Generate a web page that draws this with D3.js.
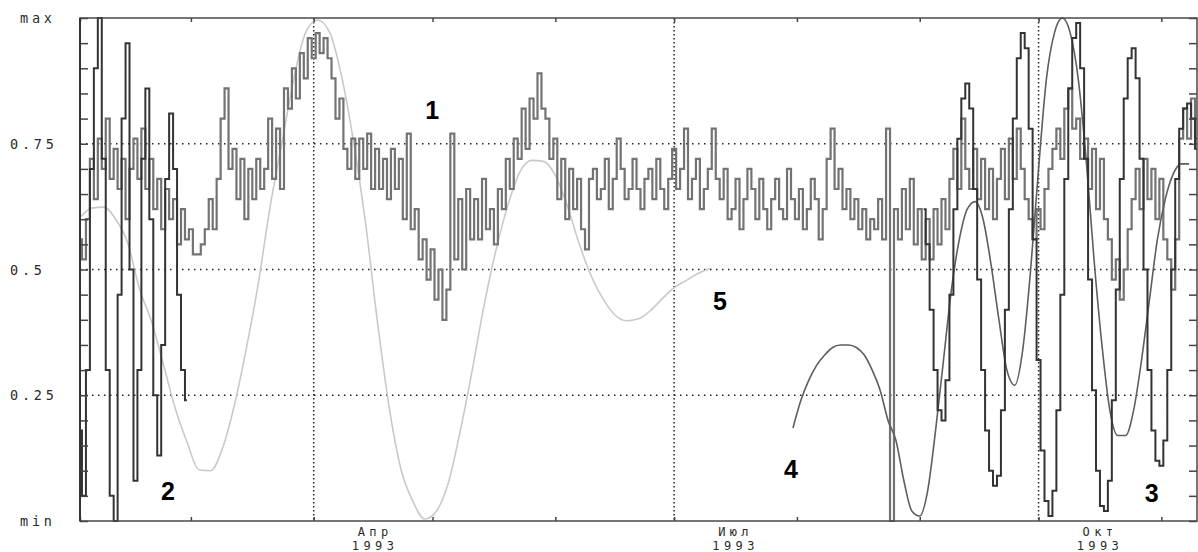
<!DOCTYPE html>
<html>
<head>
<meta charset="utf-8">
<script src="https://cdn.jsdelivr.net/npm/d3@7"></script>
<style>
  body { margin: 0; background: #fff; }
  .lbl { font-family: 'DejaVu Sans Mono', monospace; font-size: 13.5px; fill: #2a2a2a; letter-spacing: 3.8px; }
  .xlbl { font-family: 'DejaVu Sans Mono', monospace; font-size: 12px; fill: #2a2a2a; letter-spacing: 4.4px; }
  .num { font-family: 'Liberation Sans', Arial, sans-serif; font-size: 25px; font-weight: bold; fill: #000; }
</style>
</head>
<body>
<div id="chart"></div>
<script>
// Time span and axis labels
const startDate = new Date(1993, 1, 1)
const endDate = new Date(1993, 10, 10)
const yTickValues = [0, 0.25, 0.5, 0.75, 1]
const yTickLabels = ['min', '0.25', '0.5', '0.75', 'max']
const quarterStarts = [new Date(1993, 3, 1), new Date(1993, 6, 1), new Date(1993, 9, 1)]
const quarterNames = ['Апр', 'Июл', 'Окт']
const quarterYears = ['1993', '1993', '1993']

// Series 1 - daily values from Feb 1
const s1Start = 0
const s1Values = [
  0.56, 0.52, 0.60, 0.72, 0.64, 0.76, 0.70, 0.80, 0.68, 0.74,
  0.66, 0.72, 0.60, 0.70, 0.76, 0.68, 0.78, 0.66, 0.72, 0.62,
  0.68, 0.58, 0.66, 0.60, 0.64, 0.55, 0.62, 0.56, 0.58, 0.53,
  0.53, 0.55, 0.58, 0.64, 0.58, 0.68, 0.80, 0.86, 0.70, 0.74,
  0.64, 0.72, 0.60, 0.70, 0.64, 0.72, 0.66, 0.70, 0.80, 0.68,
  0.78, 0.66, 0.86, 0.82, 0.90, 0.84, 0.93, 0.88, 0.96, 0.92,
  0.97, 0.93, 0.96, 0.92, 0.88, 0.80, 0.84, 0.74, 0.70, 0.76,
  0.68, 0.76, 0.70, 0.77, 0.66, 0.74, 0.66, 0.72, 0.64, 0.74,
  0.66, 0.72, 0.60, 0.77, 0.58, 0.62, 0.52, 0.56, 0.48, 0.54,
  0.44, 0.50, 0.40, 0.46, 0.77, 0.52, 0.64, 0.50, 0.66, 0.56,
  0.64, 0.56, 0.68, 0.58, 0.62, 0.55, 0.66, 0.62, 0.72, 0.66,
  0.76, 0.72, 0.82, 0.74, 0.84, 0.80, 0.89, 0.82, 0.80, 0.72,
  0.76, 0.64, 0.72, 0.60, 0.70, 0.62, 0.68, 0.58, 0.54, 0.68,
  0.70, 0.64, 0.66, 0.72, 0.62, 0.68, 0.76, 0.70, 0.64, 0.66,
  0.72, 0.66, 0.62, 0.68, 0.70, 0.64, 0.72, 0.66, 0.62, 0.68,
  0.74, 0.66, 0.70, 0.78, 0.64, 0.68, 0.72, 0.62, 0.66, 0.70,
  0.78, 0.68, 0.64, 0.70, 0.60, 0.62, 0.68, 0.58, 0.64, 0.70,
  0.66, 0.60, 0.68, 0.62, 0.58, 0.64, 0.68, 0.62, 0.60, 0.70,
  0.64, 0.60, 0.66, 0.58, 0.62, 0.68, 0.64, 0.56, 0.62, 0.72,
  0.78, 0.66, 0.70, 0.62, 0.66, 0.60, 0.64, 0.58, 0.62, 0.56,
  0.60, 0.58, 0.64, 0.56, 0.78, 0.00, 0.62, 0.56, 0.66, 0.58,
  0.68, 0.55, 0.62, 0.52, 0.60, 0.52, 0.62, 0.55, 0.64, 0.58,
  0.68, 0.74, 0.66, 0.80, 0.70, 0.66, 0.74, 0.64, 0.72, 0.62,
  0.70, 0.60, 0.68, 0.74, 0.64, 0.76, 0.68, 0.78, 0.70, 0.64,
  0.60, 0.56, 0.62, 0.58, 0.66, 0.70, 0.74, 0.78, 0.72, 0.82,
  0.86, 0.78, 0.80, 0.72, 0.76, 0.66, 0.74, 0.62, 0.72, 0.60,
  0.56, 0.48, 0.52, 0.44, 0.50, 0.58, 0.64, 0.70, 0.62, 0.72,
  0.64, 0.70, 0.60, 0.68, 0.56, 0.52, 0.46, 0.56, 0.76, 0.82,
  0.76, 0.84, 0.76
]

// Series 2 - daily values from Feb 1
const s2Start = 0
const s2Values = [
  0.18, 0.05, 0.30, 0.70, 0.90, 1.00, 0.72, 0.30, 0.05, 0.00,
  0.45, 0.80, 0.95, 0.50, 0.08, 0.30, 0.72, 0.86, 0.60, 0.25,
  0.13, 0.35, 0.68, 0.81, 0.70, 0.45, 0.30, 0.24
]

// Series 3 - daily values from Sep 2
const s3Start = 213
const s3Values = [
  0.62, 0.55, 0.42, 0.30, 0.22, 0.20, 0.28, 0.45, 0.62, 0.76,
  0.84, 0.87, 0.82, 0.66, 0.48, 0.30, 0.18, 0.10, 0.07, 0.09,
  0.22, 0.42, 0.62, 0.80, 0.92, 0.97, 0.94, 0.78, 0.56, 0.32,
  0.14, 0.04, 0.01, 0.06, 0.22, 0.45, 0.68, 0.86, 0.96, 0.99,
  0.90, 0.72, 0.48, 0.26, 0.10, 0.03, 0.02, 0.08, 0.24, 0.46,
  0.68, 0.84, 0.92, 0.94, 0.88, 0.72, 0.50, 0.30, 0.18, 0.12,
  0.11, 0.16, 0.30, 0.50, 0.68, 0.78, 0.82, 0.83, 0.80, 0.74
]

// Series 4 - every 2 days from Jul 31
const s4Start = 180
const s4Step = 2
const s4Values = [
  0.185, 0.24, 0.28, 0.31, 0.33, 0.345, 0.35, 0.35, 0.345, 0.33,
  0.30, 0.26, 0.20, 0.16, 0.08, 0.02, 0.01, 0.06, 0.18, 0.32,
  0.46, 0.56, 0.62, 0.635, 0.60, 0.51, 0.40, 0.30, 0.27, 0.34,
  0.50, 0.70, 0.88, 0.97, 1.00, 0.97, 0.88, 0.72, 0.52, 0.35,
  0.22, 0.17, 0.17, 0.22, 0.32, 0.44, 0.56, 0.64, 0.69, 0.71,
  0.71
]

// Series 5 - every 3 days from Feb 1
const s5Start = 0
const s5Step = 3
const s5Values = [
  0.604, 0.622, 0.624, 0.600, 0.554, 0.462, 0.398, 0.313, 0.225, 0.157,
  0.102, 0.100, 0.145, 0.231, 0.343, 0.472, 0.625, 0.753, 0.880, 0.972,
  0.996, 0.972, 0.886, 0.757, 0.598, 0.402, 0.229, 0.104, 0.040, 0.004,
  0.020, 0.076, 0.179, 0.299, 0.428, 0.538, 0.627, 0.693, 0.717, 0.715,
  0.687, 0.627, 0.552, 0.488, 0.442, 0.410, 0.398, 0.402, 0.418, 0.442,
  0.464, 0.478, 0.492, 0.502
]

// Series number annotations (day offset from Feb 1, value)
const noteTexts = ['1', '2', '3', '4', '5']
const noteDays = [88.9, 22.2, 270.6, 179.5, 161.6]
const noteValues = [0.80, 0.042, 0.038, 0.085, 0.419]

;(() => {
  const margin = { top: 18, right: 1, bottom: 31, left: 80 }
  const width = 1198
  const height = 552
  const innerWidth = width - margin.left - margin.right
  const innerHeight = height - margin.top - margin.bottom

  const svg = d3.select('#chart')
    .append('svg')
    .attr('width', width)
    .attr('height', height)

  const g = svg.append('g')
    .attr('transform', `translate(${margin.left}, ${margin.top})`)

  const x = d3.scaleTime().domain([startDate, endDate]).range([0, innerWidth])
  const y = d3.scaleLinear().domain([0, 1]).range([innerHeight, 0])

  const toPoints = (start, step, values) =>
    values.map((v, i) => ({ date: d3.timeDay.offset(startDate, start + i * step), value: v }))

  //=======================================================
  // Dotted grid
  g.append('g')
    .selectAll('line')
    .data([0.25, 0.5, 0.75])
    .join('line')
    .attr('x1', 0).attr('x2', innerWidth)
    .attr('y1', d => y(d)).attr('y2', d => y(d))
    .attr('stroke', '#222')
    .attr('stroke-width', 1.5)
    .attr('stroke-dasharray', '1.5,4.5')

  g.append('g')
    .selectAll('line')
    .data(quarterStarts)
    .join('line')
    .attr('x1', d => x(d)).attr('x2', d => x(d))
    .attr('y1', 0).attr('y2', innerHeight)
    .attr('stroke', '#222')
    .attr('stroke-width', 1.5)
    .attr('stroke-dasharray', '1.5,2.5')

  //=======================================================
  // Series lines
  const smooth = d3.line()
    .x(d => x(d.date))
    .y(d => y(d.value))
    .curve(d3.curveMonotoneX)

  const stepped = d3.line()
    .x(d => x(d.date))
    .y(d => y(d.value))
    .curve(d3.curveStep)

  g.append('path')
    .datum(toPoints(s5Start, s5Step, s5Values))
    .attr('fill', 'none')
    .attr('stroke', '#c9c9c9')
    .attr('stroke-width', 1.6)
    .attr('d', smooth)

  g.append('path')
    .datum(toPoints(s1Start, 1, s1Values))
    .attr('fill', 'none')
    .attr('stroke', '#737373')
    .attr('stroke-width', 2.2)
    .attr('d', stepped)

  g.append('path')
    .datum(toPoints(s4Start, s4Step, s4Values))
    .attr('fill', 'none')
    .attr('stroke', '#5e5e5e')
    .attr('stroke-width', 1.6)
    .attr('d', smooth)

  g.append('path')
    .datum(toPoints(s2Start, 1, s2Values))
    .attr('fill', 'none')
    .attr('stroke', '#333')
    .attr('stroke-width', 2)
    .attr('d', stepped)

  g.append('path')
    .datum(toPoints(s3Start, 1, s3Values))
    .attr('fill', 'none')
    .attr('stroke', '#333')
    .attr('stroke-width', 2)
    .attr('d', stepped)

  //=======================================================
  // Frame and ticks
  const months = d3.timeMonth.range(d3.timeMonth.ceil(startDate), endDate)
  const minorY = d3.range(0, 1.0001, 0.05)

  g.append('g')
    .call(d3.axisRight(y).tickValues(minorY).tickSize(8).tickFormat(''))
    .call(a => a.select('.domain').remove())
    .selectAll('line').attr('stroke', '#444').attr('stroke-width', 1.5)

  g.append('g')
    .attr('transform', `translate(${innerWidth}, 0)`)
    .call(d3.axisLeft(y).tickValues(minorY).tickSize(8).tickFormat(''))
    .call(a => a.select('.domain').remove())
    .selectAll('line').attr('stroke', '#444').attr('stroke-width', 1.5)

  g.append('g')
    .call(d3.axisBottom(x).tickValues(months).tickSize(4).tickFormat(''))
    .call(a => a.select('.domain').remove())
    .selectAll('line').attr('stroke', '#444').attr('stroke-width', 1.5)

  g.append('g')
    .attr('transform', `translate(0, ${innerHeight})`)
    .call(d3.axisTop(x).tickValues(months).tickSize(4).tickFormat(''))
    .call(a => a.select('.domain').remove())
    .selectAll('line').attr('stroke', '#444').attr('stroke-width', 1.5)

  g.append('rect')
    .attr('width', innerWidth)
    .attr('height', innerHeight)
    .attr('fill', 'none')
    .attr('stroke', '#4a4a4a')
    .attr('stroke-width', 1.5)

  g.append('line')
    .attr('y2', innerHeight)
    .attr('stroke', '#333')
    .attr('stroke-width', 2)

  //=======================================================
  // Axis labels
  svg.append('g')
    .selectAll('text')
    .data(yTickValues)
    .join('text')
    .attr('class', 'lbl')
    .attr('x', (d, i) => isNaN(+yTickLabels[i]) ? 20 : 10)
    .attr('y', d => margin.top + y(d) + 5)
    .text((d, i) => yTickLabels[i])

  const labelG = g.append('g')
    .attr('transform', `translate(0, ${innerHeight})`)

  labelG.selectAll('text.month')
    .data(quarterStarts)
    .join('text')
    .attr('class', 'xlbl month')
    .attr('text-anchor', 'middle')
    .attr('x', d => x(d3.timeDay.offset(d, 15)) + 2)
    .attr('y', 14.5)
    .text((d, i) => quarterNames[i])

  labelG.selectAll('text.year')
    .data(quarterStarts)
    .join('text')
    .attr('class', 'xlbl year')
    .attr('text-anchor', 'middle')
    .attr('x', d => x(d3.timeDay.offset(d, 15)) + 2)
    .attr('y', 29)
    .text((d, i) => quarterYears[i])

  // Series numbers
  g.append('g')
    .selectAll('text')
    .data(noteTexts)
    .join('text')
    .attr('class', 'num')
    .attr('text-anchor', 'middle')
    .attr('x', (d, i) => x(d3.timeHour.offset(startDate, Math.round(noteDays[i] * 24))))
    .attr('y', (d, i) => y(noteValues[i]))
    .text(d => d)
})()
</script>
</body>
</html>
